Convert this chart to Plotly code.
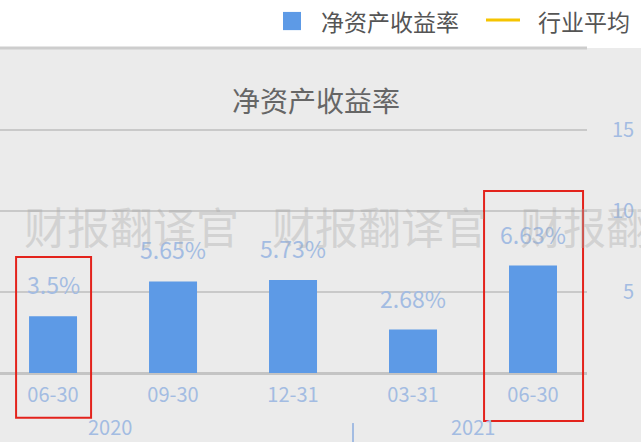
import plotly.graph_objects as go

# Datos del gráfico
fechas = ["06-30", "09-30", "12-31", "03-31", "06-30"]
roe = [3.5, 5.65, 5.73, 2.68, 6.63]
promedio = [None, None, None, None, None]
etiquetas = ["3.5%", "5.65%", "5.73%", "2.68%", "6.63%"]
años = ["2020", "2021"]
y_ticks = [0, 5, 10, 15]
y_ticktext = ["", "\u20075", "10", "15"]

azul = "#5d9ae6"
azul_claro = "#a3bce2"
gris_fondo = "#ebebeb"
fuente = "Noto Sans CJK SC, Noto Sans, sans-serif"

pos = list(range(len(fechas)))

fig = go.Figure()
fig.add_trace(go.Bar(x=pos, y=roe, name="净资产收益率", marker_color=azul,
                     marker_line_width=0, width=0.4))
fig.add_trace(go.Scatter(x=pos, y=promedio, name="行业平均", mode="lines",
                         line=dict(color="#f5c400", width=3)))

# etiquetas de valor encima de las barras
for i, (v, t) in enumerate(zip(roe, etiquetas)):
    fig.add_annotation(x=i, y=v, text=t, showarrow=False, yanchor="middle", yshift=32,
                       font=dict(size=23, color=azul_claro, family=fuente))

# años bajo el eje
fig.add_annotation(x=0.475, y=-0.165, xref="x", yref="paper", text=años[0], showarrow=False,
                   yanchor="middle", font=dict(size=20, color=azul_claro, family=fuente))
fig.add_annotation(x=3.5, y=-0.165, xref="x", yref="paper", text=años[1], showarrow=False,
                   yanchor="middle", font=dict(size=20, color=azul_claro, family=fuente))

# título
fig.add_annotation(x=0.538, y=0.84, xref="paper", yref="paper", text="净资产收益率",
                   showarrow=False, xanchor="center", yanchor="middle",
                   font=dict(size=28, color="#666666", family=fuente))

# marca de agua
for xp in [22, 270, 518]:
    fig.add_annotation(x=xp / 587, y=0.455, xref="paper", yref="paper", text="财报翻译官",
                       showarrow=False, xanchor="left", yanchor="middle",
                       font=dict(size=43, color="rgba(170,170,170,0.38)", family=fuente))

# leyenda manual
fig.add_annotation(x=319 / 587, y=1.083, xref="paper", yref="paper", text="净资产收益率",
                   showarrow=False, xanchor="left", yanchor="middle",
                   font=dict(size=23, color="#555555", family=fuente))
fig.add_annotation(x=536 / 587, y=1.083, xref="paper", yref="paper", text="行业平均",
                   showarrow=False, xanchor="left", yanchor="middle",
                   font=dict(size=23, color="#555555", family=fuente))

formas = [
    # fondo gris
    dict(type="rect", xref="paper", yref="paper", x0=-0.01, x1=1.1, y0=-0.22, y1=1.0,
         fillcolor=gris_fondo, line_width=0, layer="below"),
    # línea superior
    dict(type="line", xref="paper", yref="paper", x0=0, x1=1, y0=1.0, y1=1.0,
         line=dict(color="#cdcdcd", width=3)),
    # cuadro y línea de la leyenda
    dict(type="rect", xref="paper", yref="paper", x0=283 / 587, x1=301 / 587, y0=1.055, y1=1.111,
         fillcolor=azul, line_width=0),
    dict(type="line", xref="paper", yref="paper", x0=486 / 587, x1=520 / 587, y0=1.086, y1=1.086,
         line=dict(color="#f5c400", width=3)),
    # separador de años
    dict(type="line", xref="x", yref="paper", x0=2.5, x1=2.5, y0=-0.154, y1=-0.215,
         line=dict(color=azul_claro, width=2)),
    # recuadros rojos
    dict(type="rect", xref="x", yref="paper", x0=-0.308, x1=0.317, y0=-0.138, y1=0.357,
         line=dict(color="#e3231c", width=2)),
    dict(type="rect", xref="x", yref="paper", x0=3.592, x1=4.417, y0=-0.148, y1=0.56,
         line=dict(color="#e3231c", width=2)),
]

fig.update_layout(
    width=641, height=442,
    margin=dict(l=0, r=54, t=48, b=69),
    paper_bgcolor="white",
    plot_bgcolor="rgba(0,0,0,0)",
    showlegend=False,
    shapes=formas,
    font=dict(family=fuente),
    xaxis=dict(range=[-0.442, 4.45], tickvals=pos, ticktext=fechas, showgrid=False,
               zeroline=False, showline=False, ticks="outside", ticklen=4,
               tickcolor="rgba(0,0,0,0)", tickfont=dict(size=20, color=azul_claro)),
    yaxis=dict(range=[0, 20.05], side="right", tickvals=y_ticks, ticktext=y_ticktext,
               showgrid=True, gridcolor="#c9c9c9", gridwidth=2,
               zeroline=True, zerolinecolor="#c4c4c4", zerolinewidth=3,
               ticks="outside", ticklen=20, tickcolor="rgba(0,0,0,0)",
               tickfont=dict(size=20, color=azul_claro)),
)

fig.write_html("out.html", config={"displayModeBar": False},
               post_script="document.body.style.margin='0';")
